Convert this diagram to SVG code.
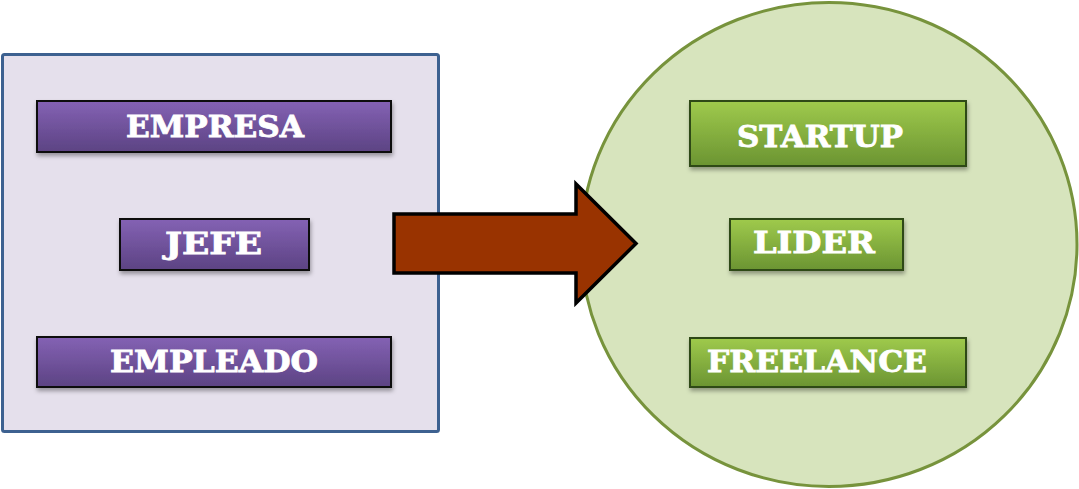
<svg xmlns="http://www.w3.org/2000/svg" width="1079" height="489" viewBox="0 0 1079 489">
<defs>
<linearGradient id="gp" x1="0" y1="0" x2="0" y2="1">
<stop offset="0" stop-color="#8462b4"/>
<stop offset="1" stop-color="#5c4383"/>
</linearGradient>
<linearGradient id="gg" x1="0" y1="0" x2="0" y2="1">
<stop offset="0" stop-color="#9fca4c"/>
<stop offset="1" stop-color="#6b9432"/>
</linearGradient>
<filter id="sh" x="-10%" y="-20%" width="120%" height="160%">
<feDropShadow dx="1" dy="3" stdDeviation="2" flood-color="#000" flood-opacity="0.35"/>
</filter>
</defs>
<style>
.pbox{fill:url(#gp);stroke:#111;stroke-width:2;filter:url(#sh)}
.gbox{fill:url(#gg);stroke:#2f4a14;stroke-width:2;filter:url(#sh)}
.lbl{font-family:"DejaVu Serif","Liberation Serif",serif;font-weight:bold;font-size:29px;fill:#fff;stroke:#fff;stroke-width:0.8}
</style>
<rect id="left-panel" x="2.5" y="54.5" width="436" height="377" rx="2" fill="#e5e0ec" stroke="#3d6190" stroke-width="3"/>
<ellipse id="right-panel" cx="829" cy="244.5" rx="248" ry="242" fill="#d7e4bd" stroke="#77933c" stroke-width="3"/>
<g id="empresa"><rect class="pbox" x="37" y="101" width="354" height="51"/><text class="lbl" x="126" y="137" textLength="178" lengthAdjust="spacingAndGlyphs">EMPRESA</text></g>
<g id="jefe"><rect class="pbox" x="120" y="219" width="189" height="51"/><text class="lbl" x="165" y="254" textLength="97" lengthAdjust="spacingAndGlyphs">JEFE</text></g>
<g id="empleado"><rect class="pbox" x="37" y="337" width="354" height="50"/><text class="lbl" x="110" y="372" textLength="208" lengthAdjust="spacingAndGlyphs">EMPLEADO</text></g>
<g id="startup"><rect class="gbox" x="690" y="101" width="276" height="65"/><text class="lbl" x="737" y="147" textLength="166" lengthAdjust="spacingAndGlyphs">STARTUP</text></g>
<g id="lider"><rect class="gbox" x="730" y="219" width="173" height="51"/><text class="lbl" x="753" y="253" textLength="122" lengthAdjust="spacingAndGlyphs">LIDER</text></g>
<g id="freelance"><rect class="gbox" x="690" y="338" width="276" height="49"/><text class="lbl" x="707" y="372" textLength="220" lengthAdjust="spacingAndGlyphs">FREELANCE</text></g>
<g id="connectors">
<path d="M394,214 L576,214 L576,184 L636,243.5 L576,303 L576,273 L394,273 Z" fill="#993300" stroke="#000" stroke-width="3.5" stroke-linejoin="miter"/>
</g>
</svg>
